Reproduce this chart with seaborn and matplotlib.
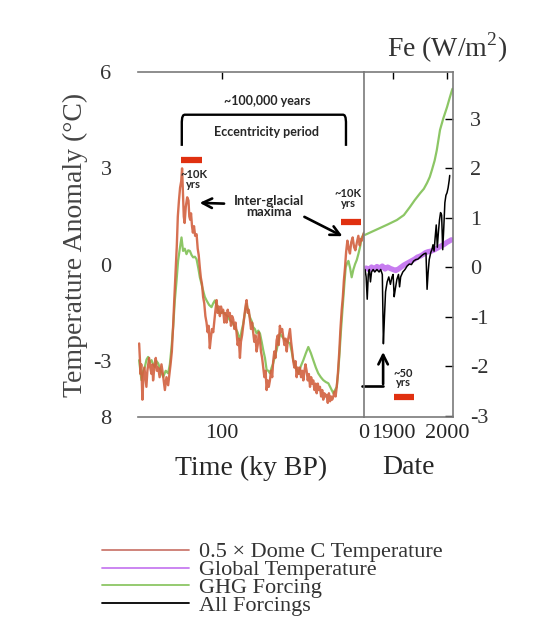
import numpy as np
import pandas as pd
import seaborn as sns
import matplotlib.pyplot as plt
from matplotlib.lines import Line2D

# Dome C temperature (x0.5), ky BP vs degC
dome_ky = [158.2, 157.6, 157.3, 156.7, 155.9, 155.3, 154.5, 153.8, 153.1, 152.4,
           151.2, 150.4, 149.5, 148.9, 148.4, 147.5, 146.5, 145.7, 144.8, 143.8,
           142.5, 141.5, 140.1, 139.0, 137.8, 136.9, 136.1, 135.2, 134.3, 133.4,
           132.4, 131.7, 131.0, 130.2, 129.4, 128.6, 128.0, 127.4, 126.8, 126.2,
           125.4, 124.4, 123.5, 122.9, 122.3, 121.7, 121.0, 120.4, 119.6, 118.8,
           117.8, 117.0, 116.3, 115.5, 114.8, 114.0, 113.2, 112.4, 111.6, 110.8,
           110.0, 109.3, 108.5, 107.8, 107.0, 106.1, 105.2, 104.5, 103.7, 103.0,
           102.2, 101.4, 100.6, 99.8, 99.1, 98.3, 97.5, 96.7, 95.9, 95.2,
           94.4, 93.6, 92.8, 92.0, 91.2, 90.4, 89.7, 88.9, 88.1, 87.3,
           86.6, 85.8, 85.0, 84.2, 83.4, 82.6, 81.8, 81.1, 80.3, 79.5,
           78.7, 78.0, 77.2, 76.4, 75.6, 74.8, 74.0, 73.2, 72.5, 71.7,
           70.9, 70.1, 69.3, 68.5, 67.8, 67.0, 66.2, 65.4, 64.6, 63.9,
           63.1, 62.3, 61.5, 60.7, 60.0, 59.2, 58.4, 57.6, 56.8, 56.0,
           55.2, 54.4, 53.7, 52.9, 52.1, 51.3, 50.5, 49.8, 49.0, 48.2,
           47.4, 46.6, 45.9, 45.1, 44.3, 43.5, 42.7, 41.9, 41.2, 40.4,
           39.6, 38.8, 38.0, 37.2, 36.5, 35.7, 34.9, 34.1, 33.3, 32.5,
           31.8, 31.0, 30.2, 29.4, 28.7, 27.9, 27.1, 26.3, 25.5, 24.7,
           23.9, 23.2, 22.4, 21.6, 20.8, 20.0, 19.2, 18.4, 17.4, 16.6,
           15.7, 14.9, 14.2, 13.4, 12.6, 11.7, 10.8, 9.9, 9.0, 8.0,
           7.0, 6.1, 5.0, 4.0, 3.0, 2.3, 1.6, 0.8, 0.0]
dome_t = [-2.45, -3.0, -3.4, -3.1, -4.2, -3.6, -3.2, -3.5, -3.8, -3.3,
          -2.9, -3.2, -3.4, -3.1, -3.6, -3.2, -2.9, -3.3, -3.2, -3.5,
          -3.1, -3.4, -3.9, -3.5, -3.75, -3.4, -3.1, -2.7, -1.9, -1.0,
          -0.1, 0.6, 1.5, 2.0, 2.4, 2.6, 3.0, 2.2, 1.5, 1.3,
          1.8, 2.1, 2.0, 1.5, 1.4, 1.6, 1.2, 1.0, 1.2, 0.9,
          0.95, 0.5, 0.3, -0.1, -0.4, -0.6, -1.0, -1.2, -1.6, -1.8,
          -2.1, -1.9, -2.6, -2.3, -2.0, -2.1, -1.7, -1.4, -1.1, -1.5,
          -1.3, -1.6, -1.3, -1.5, -1.4, -1.8, -1.5, -1.8, -1.4, -1.6,
          -1.5, -1.9, -1.6, -1.7, -2.0, -1.8, -2.1, -2.5, -2.3, -2.9,
          -2.4, -2.2, -1.9, -1.6, -1.3, -1.1, -1.5, -1.4, -1.7, -2.0,
          -1.8, -2.1, -2.4, -2.2, -2.7, -2.5, -2.1, -2.35, -2.7, -2.9,
          -3.2, -3.5, -3.3, -3.9, -3.6, -3.8, -3.6, -3.3, -3.5, -3.0,
          -2.7, -2.9, -2.35, -2.2, -2.5, -1.9, -2.1, -2.0, -2.25, -2.5,
          -2.3, -2.7, -2.4, -2.2, -2.0, -2.4, -2.7, -3.0, -3.2, -3.0,
          -3.5, -3.2, -3.4, -3.2, -3.5, -3.3, -3.6, -3.3, -3.1, -3.3,
          -3.6, -3.4, -3.8, -3.5, -3.7, -3.6, -3.9, -3.7, -4.0, -3.7,
          -3.9, -3.8, -4.1, -3.9, -4.2, -4.0, -4.1, -4.05, -4.3, -4.0,
          -4.25, -4.1, -4.2, -4.1, -3.95, -4.1, -3.8, -3.4, -2.7, -2.0,
          -1.4, -1.0, -0.5, -0.1, 0.4, 0.75, 0.5, 0.35, 0.7, 0.85,
          0.55, 0.45, 0.7, 0.9, 0.6, 0.8, 0.75, 0.9, 1.0]

# GHG forcing over the ice core period (on temperature scale)
ghg_ky = [158.2, 156.6, 155.4, 154.2, 153.0, 151.9, 150.7, 149.5, 148.3, 147.2,
          146.0, 144.8, 143.0, 141.3, 139.5, 137.8, 136.6, 135.4, 134.2, 133.1,
          131.9, 130.8, 129.6, 128.4, 127.3, 126.1, 124.9, 123.7, 122.5, 121.3,
          120.2, 119.0, 117.8, 116.6, 115.5, 114.3, 113.2, 112.0, 110.8, 109.0,
          107.3, 106.1, 104.9, 103.1, 101.4, 99.6, 97.9, 96.1, 94.4, 92.6,
          90.8, 89.0, 87.3, 86.1, 85.0, 83.8, 82.6, 81.4, 80.3, 79.1,
          78.0, 76.8, 75.6, 74.4, 73.2, 72.0, 70.9, 69.7, 68.5, 67.3,
          66.2, 65.0, 63.9, 62.7, 61.5, 60.3, 59.2, 57.4, 55.6, 53.8,
          52.1, 50.9, 49.8, 48.0, 46.2, 44.4, 42.7, 40.9, 39.2, 37.4,
          35.7, 33.9, 32.2, 30.4, 28.7, 26.9, 25.1, 23.3, 21.6, 20.4,
          19.2, 18.3, 17.4, 16.3, 15.2, 14.0, 12.9, 11.9, 11.0, 9.8,
          8.7, 7.5, 6.3, 5.1, 4.0, 2.8, 1.6, 0.8, 0.0]
ghg_t = [-2.97, -3.59, -3.3, -3.18, -2.95, -2.87, -3.05, -2.97, -3.1, -3.18,
         -3.0, -3.07, -3.3, -3.49, -3.3, -3.38, -3.1, -2.56, -1.9, -1.11,
         -0.5, 0.12, 0.5, 0.85, 0.43, 0.5, 0.33, 0.45, 0.43, 0.3,
         0.23, 0.25, 0.17, -0.1, -0.39, -0.6, -0.8, -1.0, -1.11, -1.25,
         -1.32, -1.2, -1.11, -1.35, -1.53, -1.45, -1.53, -1.6, -1.73, -1.8,
         -1.94, -2.1, -2.35, -2.05, -1.84, -1.5, -1.22, -1.45, -1.63, -1.75,
         -1.94, -2.0, -2.14, -2.05, -2.14, -2.4, -2.66, -2.9, -3.28, -3.3,
         -3.38, -3.2, -3.07, -2.85, -2.66, -2.4, -2.14, -2.25, -2.35, -2.4,
         -2.45, -2.7, -2.97, -3.2, -3.38, -3.15, -2.97, -2.75, -2.56, -2.75,
         -2.97, -3.2, -3.38, -3.5, -3.59, -3.65, -3.69, -3.85, -4.0, -3.9,
         -3.8, -3.4, -2.87, -2.1, -1.42, -0.7, -0.08, 0.05, 0.12, -0.1,
         -0.39, -0.15, 0.02, 0.15, 0.33, 0.55, 0.85, 0.9, 1.0]

# Instrumental period, Fe (W/m2)
ghg_year = [1848, 1862, 1876, 1890, 1907, 1920, 1931, 1940, 1950, 1957,
            1963, 1968, 1972, 1977, 1981, 1987, 1993, 2000, 2005, 2010]
ghg_fe = [0.65, 0.72, 0.79, 0.86, 0.95, 1.05, 1.21, 1.35, 1.49, 1.58,
          1.70, 1.82, 1.96, 2.15, 2.36, 2.77, 3.0, 3.23, 3.42, 3.6]

gt_year = [1850, 1855, 1860, 1865, 1870, 1875, 1880, 1885, 1890, 1895,
           1900, 1905, 1910, 1915, 1920, 1925, 1930, 1935, 1940, 1945,
           1950, 1955, 1960, 1965, 1970, 1975, 1980, 1985, 1990, 1995,
           2000, 2005, 2008]
gt_fe = [-0.02, -0.05, 0.0, -0.04, 0.01, -0.02, 0.02, -0.04, 0.0, -0.03,
         -0.05, -0.07, -0.04, 0.0, 0.04, 0.07, 0.1, 0.13, 0.16, 0.2,
         0.22, 0.25, 0.29, 0.31, 0.32, 0.34, 0.37, 0.4, 0.43, 0.46,
         0.5, 0.53, 0.55]

allf_year = [1848, 1850, 1852, 1854, 1856, 1858, 1860, 1863, 1866, 1870,
             1874, 1877, 1880, 1882, 1884, 1886, 1889, 1892, 1895, 1898,
             1900, 1902, 1904, 1907, 1910, 1912, 1914, 1918, 1922, 1926,
             1930, 1934, 1938, 1942, 1946, 1950, 1954, 1958, 1961, 1963,
             1965, 1967, 1970, 1972, 1974, 1976, 1978, 1980, 1982, 1984,
             1986, 1988, 1990, 1992, 1994, 1996, 1998, 2000, 2002, 2004,
             2005]
allf_fe = [-0.05, -0.2, -0.65, -0.15, -0.05, -0.3, -0.1, -0.05, -0.1, -0.05,
           -0.1, -0.05, -0.15, -1.55, -1.0, -0.5, -0.3, -0.2, -0.35, -0.2,
           -0.15, -0.6, -0.45, -0.25, -0.15, -0.4, -0.2, -0.1, -0.05, 0.02,
           0.06, 0.05, 0.12, 0.15, 0.16, 0.2, 0.24, 0.27, 0.28, -0.45,
           -0.1, 0.15, 0.3, 0.35, 0.45, 0.32, 0.6, 0.85, 0.4, 0.7,
           0.95, 1.1, 1.05, 0.35, 0.8, 1.3, 1.45, 1.5, 1.6, 1.75,
           1.85]

legend_labels = ["0.5 \u00d7 Dome C Temperature", "Global Temperature",
                 "GHG Forcing", "All Forcings"]

red = "#d2603f"
purple = "#c77cf0"
green = "#8cc665"
spine_gray = "#7a7a7a"

sns.set_style("white")
plt.rcParams['font.family'] = ['Liberation Serif', 'DejaVu Serif']
plt.rcParams['mathtext.fontset'] = 'custom'
plt.rcParams['mathtext.rm'] = 'Liberation Serif'

fig = plt.figure(figsize=(5.37, 6.36), dpi=100)
ax = fig.add_axes([0.257, 0.3443, 0.4209, 0.5425])
axr = fig.add_axes([0.6778, 0.3443, 0.1657, 0.5425])

# left panel: ice core
sns.lineplot(x=ghg_ky, y=ghg_t, ax=ax, color=green, lw=1.6, estimator=None, sort=False)
sns.lineplot(x=dome_ky, y=dome_t, ax=ax, color=red, lw=1.7, alpha=0.9, estimator=None, sort=False)
ax.set_xlim(159, 0)
ax.set_ylim(-4.74, 6)
ax.set_xticks([100, 0])
ax.set_xticklabels(["100", "0"])
ax.set_yticks([6, 3, 0, -3, -4.74])
ax.set_yticklabels(["6", "3", "0", "-3", "8"])
ax.tick_params(axis='x', direction='in', length=5, width=1, color='black',
               top=True, labelsize=16, pad=5)
ax.tick_params(axis='y', length=0, labelsize=16, pad=19, labelcolor='#333333')
ax.set_xlabel("Time (ky BP)", fontsize=20, labelpad=9)
ax.set_ylabel("Temperature Anomaly (\u00b0C)", fontsize=20, labelpad=4, color='#444444')
for s in ['left', 'right']:
    ax.spines[s].set_visible(False)
for s in ['top', 'bottom']:
    ax.spines[s].set_color(spine_gray)
    ax.spines[s].set_linewidth(1.2)

# right panel: instrumental
sns.lineplot(x=gt_year, y=gt_fe, ax=axr, color=purple, lw=3.8, estimator=None, sort=False)
sns.lineplot(x=ghg_year, y=ghg_fe, ax=axr, color=green, lw=1.6, estimator=None, sort=False)
sns.lineplot(x=allf_year, y=allf_fe, ax=axr, color='black', lw=1.1, estimator=None, sort=False)
axr.set_xlim(1846, 2011)
axr.set_ylim(-3.03, 3.94)
axr.set_xticks([1900, 2000])
axr.set_xticklabels(["1900", "2000"])
axr.set_yticks([-3, -2, -1, 0, 1, 2, 3])
axr.set_yticklabels(["-3", "-2", "-1", "0", "1", "2", "3"])
axr.yaxis.tick_right()
axr.tick_params(axis='x', direction='in', length=5, width=1, color='black',
                top=True, labelsize=16, pad=5)
axr.tick_params(axis='y', direction='in', length=6, width=1, color='black',
                left=False, right=True, labelsize=16, pad=12, labelcolor='#333333')
axr.set_xlabel("Date", fontsize=20, labelpad=9)
axr.set_ylabel("")
for s in axr.spines.values():
    s.set_color(spine_gray)
    s.set_linewidth(1.2)
axr.text(0.93, 1.07, "Fe (W/m$^2$)", transform=axr.transAxes, ha='center',
         va='center', fontsize=20, color='#333333')

# annotations
sans = ['Lato', 'DejaVu Sans']
ax.text(68.3, 5.1, "~100,000 years", ha='center', va='center',
        family=sans, weight='bold', fontsize=9)
ax.text(68.3, 4.12, "Eccentricity period", ha='center', va='center',
        family=sans, weight='bold', fontsize=9)
brk_x = [128.2, 128.2, 127.9, 127.2, 126.3, 14.6, 13.7, 13.0, 12.7, 12.7]
brk_y = [3.70, 4.45, 4.58, 4.65, 4.67, 4.67, 4.65, 4.58, 4.45, 3.70]
ax.plot(brk_x, brk_y, color='black', lw=1.7, solid_capstyle='butt')
ax.plot([128.9, 114.1], [3.27, 3.27], color='#e03010', lw=4.5, solid_capstyle='butt')
ax.plot([16.2, 2.1], [1.32, 1.32], color='#e03010', lw=4.5, solid_capstyle='butt')
ax.text(119.7, 2.65, "~10K\nyrs", ha='center', va='center', linespacing=0.85,
        family=sans, weight='bold', fontsize=8)
ax.text(11.3, 2.06, "~10K\nyrs", ha='center', va='center', linespacing=0.85,
        family=sans, weight='bold', fontsize=8)
ax.text(66.9, 1.81, "Inter-glacial\nmaxima", ha='center', va='center',
        linespacing=0.95, family=sans, weight='bold', fontsize=9.5)
arrow = dict(arrowstyle='->', color='black', lw=1.9, mutation_scale=17)
ax.annotate("", xy=(117.6, 1.93), xytext=(96.5, 1.90), arrowprops=arrow)
ax.annotate("", xy=(13.4, 0.85), xytext=(43.7, 1.53), arrowprops=arrow)

axr.plot([1902, 1939], [-2.63, -2.63], color='#e03010', lw=4.5, solid_capstyle='butt')
axr.text(1918.5, -2.24, "~50\nyrs", ha='center', va='center', linespacing=0.85,
         family=sans, weight='bold', fontsize=8)
axr.plot([1842, 1881.5], [-2.40, -2.40], color='black', lw=1.9, clip_on=False)
axr.annotate("", xy=(1881.5, -1.66), xytext=(1881.5, -2.42), arrowprops=arrow)

handles = [Line2D([], [], color="#cc7a70", lw=1.3),
           Line2D([], [], color=purple, lw=1.3),
           Line2D([], [], color=green, lw=1.3),
           Line2D([], [], color='black', lw=1.3)]
fig.legend(handles, legend_labels, loc='upper left', bbox_to_anchor=(0.19, 0.148),
           frameon=False, fontsize=16, handlelength=3.9, handletextpad=0.45,
           labelspacing=-0.12, borderpad=0, borderaxespad=0, labelcolor='#333333')

fig.savefig("out.png", dpi=100)
